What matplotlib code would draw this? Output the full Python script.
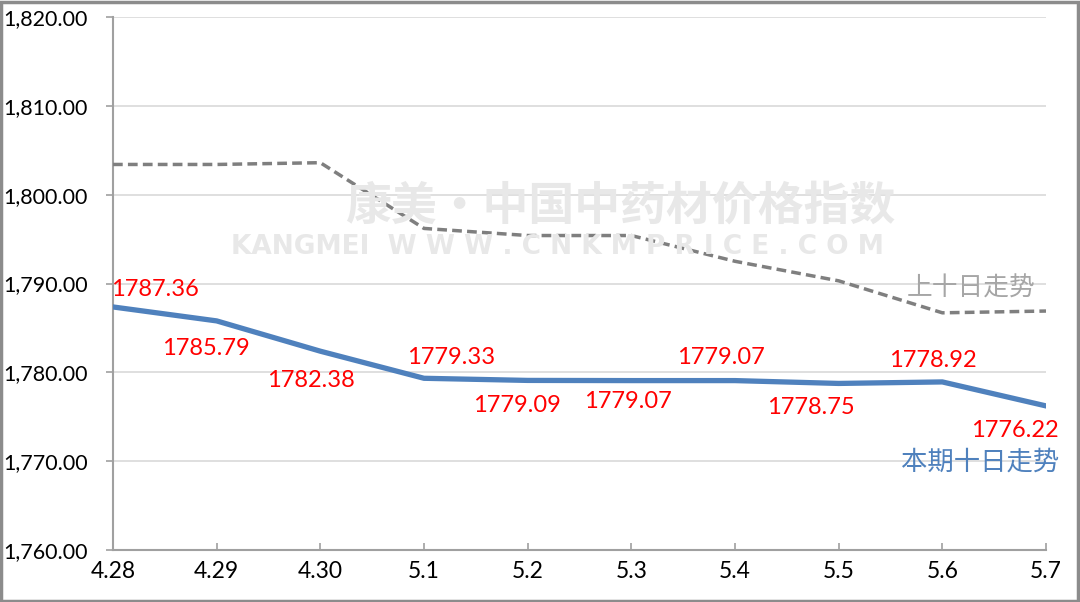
import matplotlib
matplotlib.use("Agg")
import matplotlib.pyplot as plt
from matplotlib.patches import Rectangle

categories = ["4.28", "4.29", "4.30", "5.1", "5.2", "5.3", "5.4", "5.5", "5.6", "5.7"]
current = [1787.36, 1785.79, 1782.38, 1779.33, 1779.09, 1779.07, 1779.07, 1778.75, 1778.92, 1776.22]
previous = [1803.4, 1803.4, 1803.6, 1796.2, 1795.4, 1795.4, 1792.5, 1790.3, 1786.7, 1786.9]
yticks = [1760, 1770, 1780, 1790, 1800, 1810, 1820]
label_offsets = [(42, 17), (-11, -28), (-9, -29), (27, 21), (-11, -25),
                 (-3, -21), (-14, 23), (-28, -24), (-10, 21), (-31, -25)]

plt.rcParams['font.family'] = ['Lato', 'Noto Sans CJK SC', 'DejaVu Sans']

fig = plt.figure(figsize=(10.8, 6.02), dpi=100)
ax = fig.add_axes([113/1080, 52/602, (1046-113)/1080, (550-17)/602])

x = list(range(len(categories)))
ax.plot(x, previous, color="#7f7f7f", lw=2.5, ls=(0, (2.8, 1.5)), zorder=3)
ax.plot(x, current, color="#4f81bd", lw=3.8, zorder=4, solid_joinstyle="round")

for i, (v, off) in enumerate(zip(current, label_offsets)):
    ax.annotate(f"{v:.2f}", (i, v), xytext=off, textcoords="offset pixels",
                ha="center", va="center", color="#ff0000", fontsize=17, zorder=5)

fig.text(971/1080, 1-289/602, "上十日走势", color="#a6a6a6", fontsize=18.5,
         ha="center", va="center", family=['Noto Sans CJK SC', 'DejaVu Sans'])
fig.text(980/1080, 1-462/602, "本期十日走势", color="#4f81bd", fontsize=19,
         ha="center", va="center", family=['Noto Sans CJK SC', 'DejaVu Sans'])

# watermark
fig.text(620/1080, 1-207/602, "康美·中国中药材价格指数", color="#e8e8e8", fontsize=33,
         fontweight="bold", ha="center", va="center",
         family=['Noto Sans CJK SC', 'DejaVu Sans'], zorder=0)
fig.text(557/1080, 1-247/602, "KANGMEI  W W W . C N K M P R I C E . C O M", color="#e8e8e8",
         fontsize=19, fontweight="bold", ha="center", va="center",
         family=['DejaVu Sans'], zorder=0)

ax.set_xlim(0, len(categories) - 1)
ax.set_ylim(1760, 1820)
ax.set_yticks(yticks)
ax.set_yticklabels([f"{v:,.2f}" for v in yticks])
ax.set_xticks(x)
ax.set_xticklabels(categories)
ax.grid(axis="y", color="#d9d9d9", lw=1.2)
ax.set_axisbelow(True)
for s in ["top", "right"]:
    ax.spines[s].set_visible(False)
for s in ["left", "bottom"]:
    ax.spines[s].set_color("#a0a0a0")
    ax.spines[s].set_linewidth(1.5)
ax.tick_params(axis="y", direction="out", length=5, color="#a0a0a0", width=1.2,
               labelsize=15.5, pad=13, labelcolor="#000000")
ax.tick_params(axis="x", direction="in", length=5, color="#a0a0a0", width=1.2,
               labelsize=16.5, pad=8)
ax.patch.set_alpha(0)

fig.patches.append(Rectangle((0.001, 0.002), 0.997, 0.995, transform=fig.transFigure,
                             fill=False, edgecolor="#8c8c8c", lw=2.5))

fig.savefig("out.png", dpi=100)
